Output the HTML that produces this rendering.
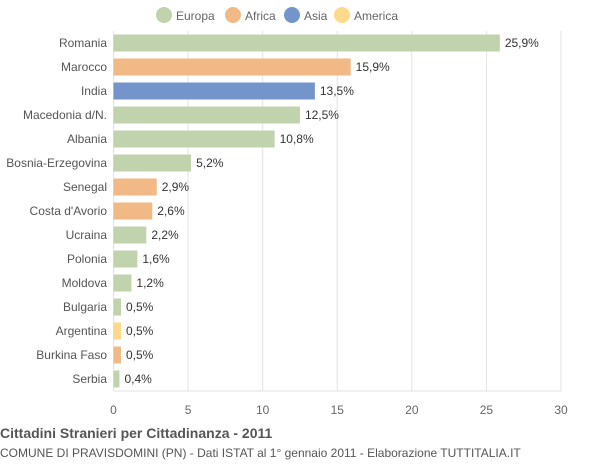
<!DOCTYPE html>
<html><head><meta charset="utf-8"><style>
body{margin:0;background:#fff;font-family:"Liberation Sans",sans-serif}
svg text{font-family:"Liberation Sans",sans-serif}
</style></head><body>
<svg width="600" height="460" xmlns="http://www.w3.org/2000/svg">
<g id="legend"></g>
<g id="grid"></g>
<g id="bars"></g>
<text x="0" y="438" font-size="14" font-weight="bold" fill="#555">Cittadini Stranieri per Cittadinanza - 2011</text>
<text x="0" y="457" font-size="12" fill="#555">COMUNE DI PRAVISDOMINI (PN) - Dati ISTAT al 1° gennaio 2011 - Elaborazione TUTTITALIA.IT</text>
</svg>
<script>
const categories=["Romania","Marocco","India","Macedonia d/N.","Albania","Bosnia-Erzegovina","Senegal","Costa d'Avorio","Ucraina","Polonia","Moldova","Bulgaria","Argentina","Burkina Faso","Serbia"];
const values=[25.9,15.9,13.5,12.5,10.8,5.2,2.9,2.6,2.2,1.6,1.2,0.5,0.5,0.5,0.4];
const labels=["25,9%","15,9%","13,5%","12,5%","10,8%","5,2%","2,9%","2,6%","2,2%","1,6%","1,2%","0,5%","0,5%","0,5%","0,4%"];
const continents=["Europa","Africa","Asia","Europa","Europa","Europa","Africa","Africa","Europa","Europa","Europa","Europa","America","Africa","Europa"];
const legendNames=["Europa","Africa","Asia","America"];
const ticks=[0,5,10,15,20,25,30];
const colors={Europa:"#c0d3ac",Africa:"#f0b986",Asia:"#7395cc",America:"#fdd98a"};
const NS="http://www.w3.org/2000/svg";
const x0=113.5,x1=561,xmax=30,yTop=31,yBot=391;
const xs=v=>x0+(x1-x0)*v/xmax;
const step=(yBot-yTop)/categories.length;
const yc=i=>yTop+step*(i+0.5);
function mk(tag,attrs,parent){const e=document.createElementNS(NS,tag);for(const k in attrs)e.setAttribute(k,attrs[k]);parent.appendChild(e);return e;}
const grid=document.getElementById('grid'),bars=document.getElementById('bars'),legend=document.getElementById('legend');
ticks.forEach(t=>{
 const l=mk('line',{x1:xs(t),x2:xs(t),y1:yTop,y2:yBot,stroke:'#e3e3e3','stroke-width':1},grid);
 
 
 const tx=mk('text',{x:xs(t),y:414,'font-size':12,fill:'#666','text-anchor':'middle'},grid);
 tx.textContent=t;
 
 
});
const ax=mk('line',{x1:x0,x2:x1,y1:yBot,y2:yBot,stroke:'#e3e3e3'},grid);


categories.forEach((c,i)=>{
 const y=yc(i);
 const r=mk('rect',{x:x0,y:y-8.5,width:xs(values[i])-x0,height:17,fill:colors[continents[i]]},bars);
 
 
 const cl=mk('text',{x:107,y:y+4,'font-size':12,fill:'#555','text-anchor':'end'},bars);
 cl.textContent=c;
 
 
 const vl=mk('text',{x:xs(values[i])+5,y:y+4,'font-size':12,fill:'#333'},bars);
 vl.textContent=labels[i];
 
 
});
const lx=[164,233,292,342];
legendNames.forEach((n,i)=>{
 const g=mk('g',{},legend);
 
 
 mk('circle',{cx:lx[i],cy:15,r:8,fill:colors[n]},g);
 const t=mk('text',{x:lx[i]+12,y:20,'font-size':12,fill:'#666'},g);
 t.textContent=n;
});
</script>
</body></html>
